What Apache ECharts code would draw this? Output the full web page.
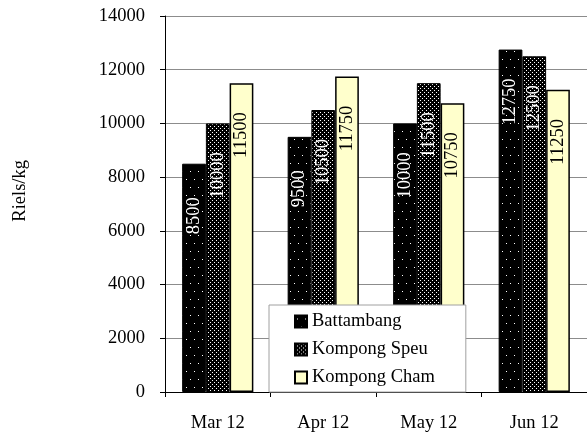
<!DOCTYPE html>
<html>
<head>
<meta charset="utf-8">
<script src="https://cdn.jsdelivr.net/npm/echarts@6/dist/echarts.min.js"></script>
<style>
html,body{margin:0;padding:0;background:#fff;}
#chart{width:587px;height:439px;}
</style>
</head>
<body>
<div id="chart"></div>
<script>
// ---- data ----
var categories = ['Mar 12', 'Apr 12', 'May 12', 'Jun 12'];
var battambang = [8500, 9500, 10000, 12750];
var kompongSpeu = [10000, 10500, 11500, 12500];
var kompongCham = [11500, 11750, 10750, 11250];
var seriesNames = ['Battambang', 'Kompong Speu', 'Kompong Cham'];
var yTicks = [0, 2000, 4000, 6000, 8000, 10000, 12000, 14000];
var yTitle = 'Riels/kg';

var FONT = "'Liberation Serif','Times New Roman',serif";
var FS = 18.5;

function dotPattern(w, h, dots) {
  var c = document.createElement('canvas');
  c.width = w; c.height = h;
  var ctx = c.getContext('2d');
  ctx.fillStyle = '#000';
  ctx.fillRect(0, 0, w, h);
  ctx.fillStyle = '#fff';
  dots.forEach(function (d) { ctx.fillRect(d[0], d[1], 1, 1); });
  return { image: c, repeat: 'repeat' };
}
var sparse = dotPattern(8, 16, [[2, 3], [6, 11]]);
var dense = dotPattern(4, 4, [[0, 0], [2, 2]]);

var chart = echarts.init(document.getElementById('chart'), null, { renderer: 'canvas' });

function labelCfg(color) {
  return {
    show: true,
    position: 'insideTop',
    distance: 52,
    rotate: 90,
    align: 'center',
    verticalAlign: 'middle',
    color: color,
    fontFamily: FONT,
    fontSize: FS
  };
}

var option = {
  animation: false,
  backgroundColor: '#fff',
  grid: { left: 165, right: -5, top: 16, bottom: 47, containLabel: false },
  graphic: [{
    type: 'text',
    left: 11,
    top: 160,
    rotation: Math.PI / 2,
    style: { text: yTitle, font: FS + 'px ' + FONT, fill: '#000' }
  }],
  legend: {
    orient: 'vertical',
    left: 269,
    top: 305,
    padding: [7, 31, 5, 25],
    itemWidth: 12,
    itemHeight: 12,
    itemGap: 9,
    backgroundColor: '#fff',
    borderColor: '#a0a0a0',
    borderWidth: 1,
    textStyle: { fontFamily: FONT, fontSize: FS, color: '#000' },
    data: seriesNames.map(function (n) { return { name: n, icon: 'rect' }; })
  },
  xAxis: {
    type: 'category',
    data: categories,
    axisLine: { lineStyle: { color: '#000', width: 1 } },
    axisTick: { show: true, length: 5, alignWithLabel: false, lineStyle: { color: '#000' } },
    axisLabel: { margin: 22, color: '#000', fontFamily: FONT, fontSize: FS },
    splitLine: { show: false }
  },
  yAxis: {
    type: 'value',
    min: yTicks[0],
    max: yTicks[yTicks.length - 1],
    interval: yTicks[1] - yTicks[0],
    axisLine: { show: true, lineStyle: { color: '#000', width: 1 } },
    axisTick: { show: true, length: 5, lineStyle: { color: '#000' } },
    axisLabel: {
      margin: 20, color: '#000', fontFamily: FONT, fontSize: FS,
      formatter: function (v) { return String(v); }
    },
    splitLine: { show: true, lineStyle: { color: '#8c8c8c', width: 1 } }
  },
  series: [
    {
      name: seriesNames[0], type: 'bar', data: battambang,
      barGap: '0%', barCategoryGap: '32.5%',
      itemStyle: { color: sparse, borderColor: '#000', borderWidth: 1 },
      label: labelCfg('#fff')
    },
    {
      name: seriesNames[1], type: 'bar', data: kompongSpeu,
      barGap: '0%', barCategoryGap: '32.5%',
      itemStyle: { color: dense, borderColor: '#000', borderWidth: 1 },
      label: labelCfg('#fff')
    },
    {
      name: seriesNames[2], type: 'bar', data: kompongCham,
      barGap: '0%', barCategoryGap: '32.5%',
      itemStyle: { color: '#FFFFCC', borderColor: '#000', borderWidth: 1.5 },
      label: labelCfg('#000')
    }
  ]
};
chart.setOption(option);
</script>
</body>
</html>
